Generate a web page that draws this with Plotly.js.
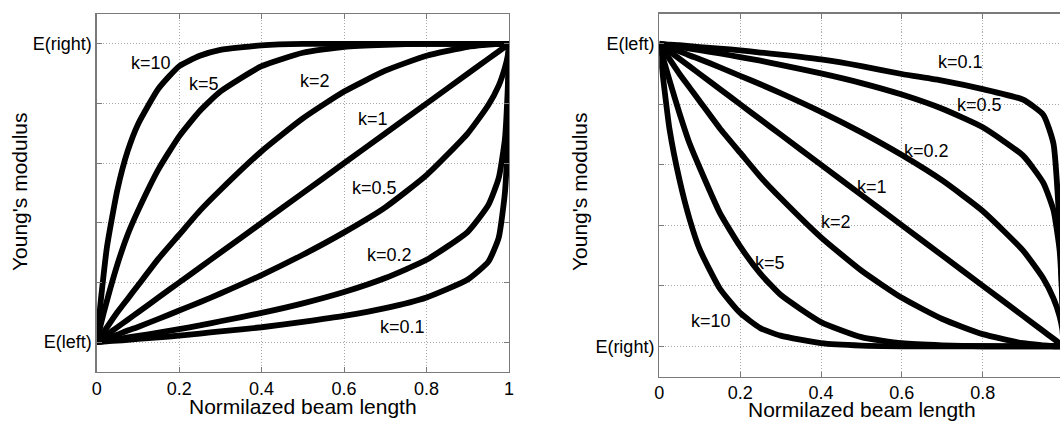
<!DOCTYPE html>
<html>
<head>
<meta charset="utf-8">
<script src="https://cdn.plot.ly/plotly-3.0.1.min.js"></script>
<style>html,body{margin:0;padding:0;background:#fff;}#chart{width:1060px;height:421px;}</style>
</head>
<body>
<div id="chart"></div>
<script>
// Normalised beam length samples (shared by all curves)
const xs = [0, 0.01, 0.025, 0.05, 0.075, 0.1, 0.15, 0.2, 0.25, 0.3, 0.4, 0.5, 0.6, 0.7, 0.8, 0.9, 0.95, 0.975, 0.99, 0.997, 1];

// Left panel: 0 = E(left), 1 = E(right)
const k10L = [0, 0.14, 0.32, 0.51, 0.64, 0.73, 0.85, 0.925, 0.96, 0.98, 0.995, 1, 1, 1, 1, 1, 1, 1, 1, 1, 1];
const k5L  = [0, 0.06, 0.14, 0.26, 0.36, 0.44, 0.58, 0.69, 0.775, 0.84, 0.925, 0.97, 0.99, 0.997, 1, 1, 1, 1, 1, 1, 1];
const k2L  = [0, 0.02, 0.05, 0.1, 0.145, 0.19, 0.28, 0.36, 0.44, 0.51, 0.64, 0.75, 0.84, 0.91, 0.96, 0.99, 0.997, 1, 1, 1, 1];
const k1L  = [0, 0.01, 0.025, 0.05, 0.075, 0.1, 0.15, 0.2, 0.25, 0.3, 0.4, 0.5, 0.6, 0.7, 0.8, 0.9, 0.95, 0.975, 0.99, 0.997, 1];
const k05L = [0, 0.005, 0.013, 0.025, 0.039, 0.051, 0.078, 0.106, 0.134, 0.163, 0.225, 0.293, 0.368, 0.452, 0.56, 0.7, 0.795, 0.86, 0.92, 0.96, 1];
const k02L = [0, 0.002, 0.005, 0.01, 0.016, 0.021, 0.032, 0.044, 0.056, 0.07, 0.098, 0.13, 0.168, 0.215, 0.276, 0.37, 0.46, 0.55, 0.68, 0.85, 1];
const k01L = [0, 0.001, 0.003, 0.005, 0.008, 0.011, 0.016, 0.022, 0.029, 0.036, 0.05, 0.068, 0.088, 0.114, 0.15, 0.21, 0.27, 0.35, 0.5, 0.7, 1];

// Right panel: 0 = E(right), 1 = E(left)
const k01R = [1, 0.999, 0.997, 0.995, 0.992, 0.989, 0.984, 0.978, 0.971, 0.964, 0.948, 0.926, 0.9, 0.878, 0.85, 0.815, 0.765, 0.67, 0.4, 0.15, 0];
const k02R = [1, 0.998, 0.995, 0.99, 0.984, 0.979, 0.968, 0.956, 0.944, 0.93, 0.902, 0.87, 0.832, 0.785, 0.724, 0.63, 0.54, 0.45, 0.32, 0.15, 0];
const k05R = [1, 0.995, 0.987, 0.975, 0.961, 0.949, 0.922, 0.894, 0.866, 0.837, 0.775, 0.707, 0.632, 0.548, 0.447, 0.316, 0.224, 0.158, 0.1, 0.055, 0];
const k1R  = [1, 0.99, 0.975, 0.95, 0.925, 0.9, 0.85, 0.8, 0.75, 0.7, 0.6, 0.5, 0.4, 0.3, 0.2, 0.1, 0.05, 0.025, 0.01, 0.003, 0];
const k2R  = [1, 0.98, 0.95, 0.9, 0.855, 0.81, 0.72, 0.64, 0.56, 0.49, 0.36, 0.25, 0.16, 0.09, 0.04, 0.01, 0.003, 0, 0, 0, 0];
const k5R  = [1, 0.95, 0.88, 0.77, 0.67, 0.59, 0.44, 0.33, 0.24, 0.17, 0.08, 0.03, 0.01, 0.003, 0, 0, 0, 0, 0, 0, 0];
const k10R = [1, 0.88, 0.72, 0.55, 0.42, 0.32, 0.19, 0.11, 0.06, 0.035, 0.01, 0.002, 0, 0, 0, 0, 0, 0, 0, 0, 0];

const tickVals = [0, 0.2, 0.4, 0.6, 0.8, 1];
const xTickText = ['0', '0.2', '0.4', '0.6', '0.8', '1'];
const yTickTextL = ['E(left)', '', '', '', '', 'E(right)'];
const yTickTextR = ['E(right)', '', '', '', '', 'E(left)'];
const xTitle = 'Normilazed beam length';
const yTitle = "Young's modulus";

const labelsL = ['k=10', 'k=5', 'k=2', 'k=1', 'k=0.5', 'k=0.2', 'k=0.1'];
const labelsR = ['k=10', 'k=5', 'k=2', 'k=1', 'k=0.2', 'k=0.5', 'k=0.1'];

const seriesL = [k10L, k5L, k2L, k1L, k05L, k02L, k01L];
const seriesR = [k10R, k5R, k2R, k1R, k05R, k02R, k01R];

const lineStyle = {color: '#000000', width: 5.8, shape: 'spline', smoothing: 0.5};
const traces = [];
seriesL.forEach(s => traces.push({x: xs, y: s, xaxis: 'x', yaxis: 'y', mode: 'lines', line: lineStyle, hoverinfo: 'skip'}));
seriesR.forEach(s => traces.push({x: xs, y: s, xaxis: 'x2', yaxis: 'y2', mode: 'lines', line: lineStyle, hoverinfo: 'skip'}));

const font = {family: 'Liberation Sans, Arial, sans-serif', color: '#000000'};
const frame = '#7a7a7a';
function axisBase() {
  return {
    showline: true, linecolor: frame, linewidth: 1.3, mirror: 'ticks',
    ticks: 'inside', ticklen: 5, tickcolor: frame, tickwidth: 1,
    showgrid: true, gridcolor: '#a8a8a8', griddash: '1px,2px', gridwidth: 1,
    zeroline: false, tickvals: tickVals, tickfont: Object.assign({size: 18}, font),
    fixedrange: true
  };
}

const xaxis = Object.assign(axisBase(), {domain: [96.7/1060, 509/1060], range: [0, 1], ticktext: xTickText, anchor: 'y'});
const yaxis = Object.assign(axisBase(), {domain: [1 - 372/421, 1 - 14/421], range: [-0.1, 1.1], ticktext: yTickTextL, anchor: 'x'});
const xaxis2 = Object.assign(axisBase(), {domain: [659.3/1060, 1], range: [0, 0.9912], ticktext: xTickText, anchor: 'y2'});
const yaxis2 = Object.assign(axisBase(), {domain: [1 - 376.5/421, 1 - 13.5/421], range: [-0.1, 1.1], ticktext: yTickTextR,
  mirror: false, anchor: 'x2'});

const annPosL = [[0.132, 0.936], [0.26, 0.866], [0.529, 0.876], [0.67, 0.749], [0.673, 0.518], [0.709, 0.291], [0.741, 0.05]];
const annPosR = [[0.128, 0.085], [0.274, 0.276], [0.437, 0.412], [0.526, 0.527], [0.66, 0.646], [0.793, 0.798], [0.746, 0.94]];
const annotations = [];
labelsL.forEach((t, i) => annotations.push({text: t, x: annPosL[i][0], y: annPosL[i][1], xref: 'x', yref: 'y', showarrow: false,
  font: Object.assign({size: 18}, font)}));
labelsR.forEach((t, i) => annotations.push({text: t, x: annPosR[i][0], y: annPosR[i][1], xref: 'x2', yref: 'y2', showarrow: false,
  font: Object.assign({size: 18}, font)}));

// axis titles (placed as paper annotations to match the source placement)
const titleFont = Object.assign({size: 21}, font);
annotations.push({text: xTitle, xref: 'paper', yref: 'paper', x: 302.5/1060, y: (421 - 406.5)/421, xanchor: 'center', yanchor: 'middle', showarrow: false, font: titleFont});
annotations.push({text: xTitle, xref: 'paper', yref: 'paper', x: 861.5/1060, y: (421 - 409.5)/421, xanchor: 'center', yanchor: 'middle', showarrow: false, font: titleFont});
annotations.push({text: yTitle, xref: 'paper', yref: 'paper', x: 20/1060, y: (421 - 192)/421, xanchor: 'center', yanchor: 'middle', textangle: -90, showarrow: false, font: titleFont});
annotations.push({text: yTitle, xref: 'paper', yref: 'paper', x: 580/1060, y: (421 - 192)/421, xanchor: 'center', yanchor: 'middle', textangle: -90, showarrow: false, font: titleFont});

const layout = {
  width: 1060, height: 421,
  margin: {l: 0, r: 0, t: 0, b: 0},
  paper_bgcolor: '#ffffff', plot_bgcolor: '#ffffff',
  showlegend: false,
  font: font,
  xaxis: xaxis, yaxis: yaxis, xaxis2: xaxis2, yaxis2: yaxis2,
  annotations: annotations
};

Plotly.newPlot('chart', traces, layout, {staticPlot: true, displayModeBar: false});
</script>
</body>
</html>
